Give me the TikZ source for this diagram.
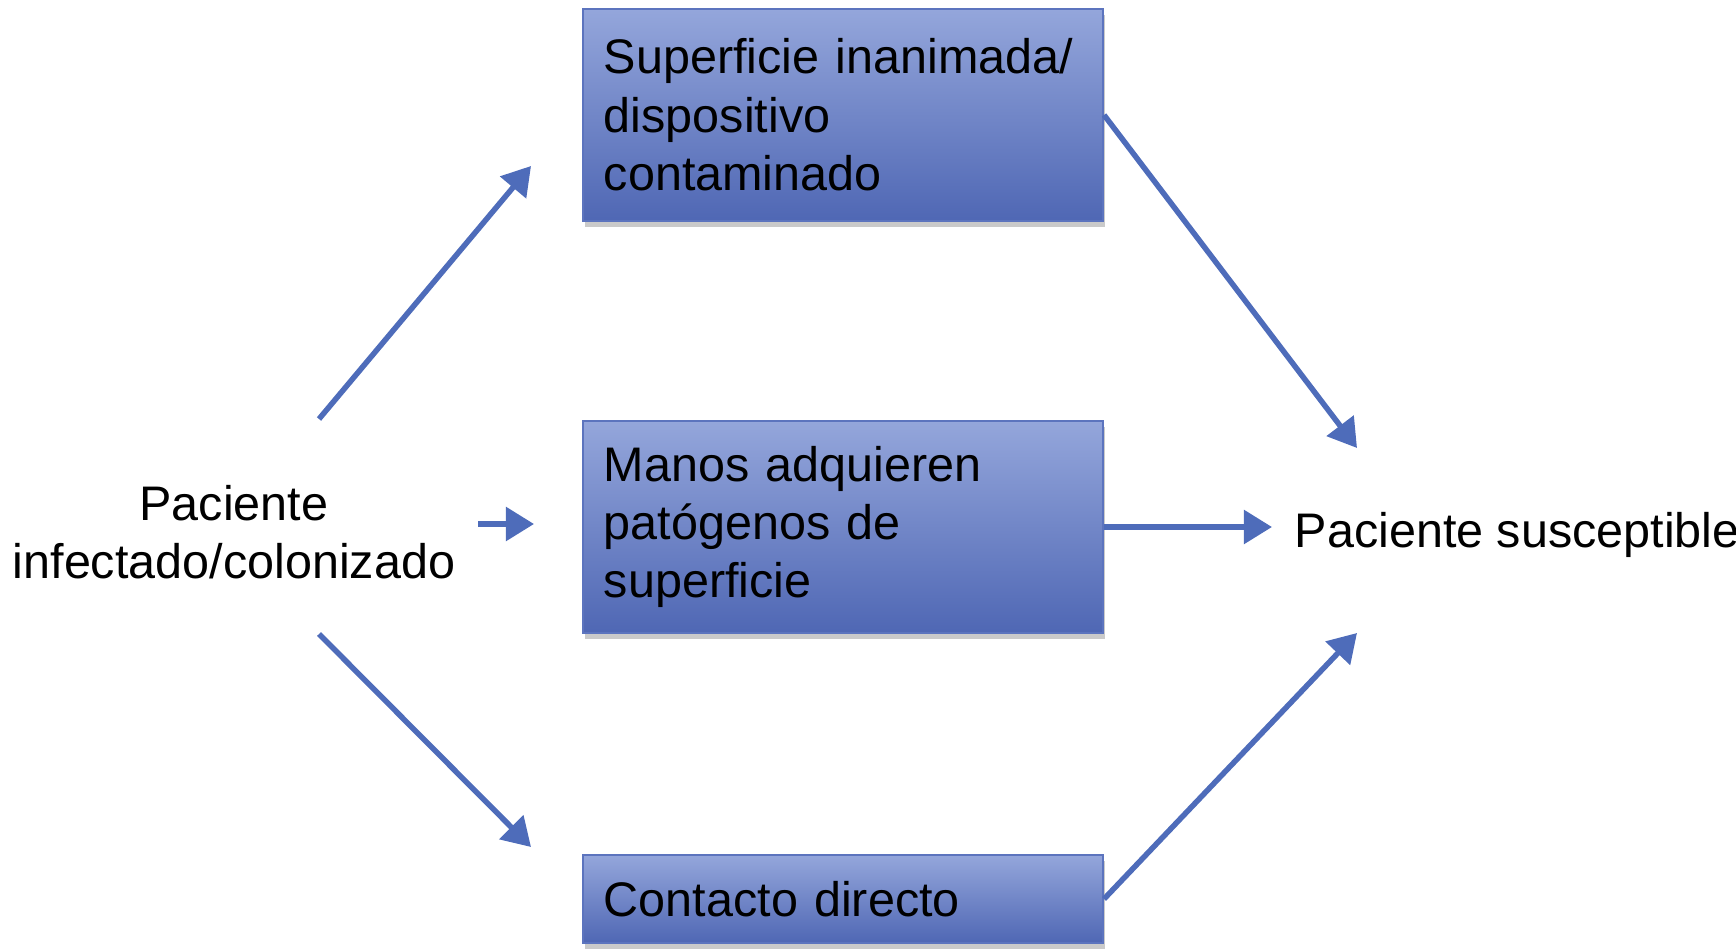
\documentclass[tikz,border=0pt]{standalone}
\usepackage{fontspec}
\setmainfont{Liberation Sans}
\usetikzlibrary{positioning,arrows.meta,shadows}
\definecolor{flowblue}{HTML}{4E6CBA}
\definecolor{boxtop}{HTML}{94A6DB}
\definecolor{boxbottom}{HTML}{4F67B4}
\definecolor{boxedge}{HTML}{5C74BE}
\newcommand{\diagfont}{\fontsize{13.8}{16.6}\selectfont}
\begin{document}
\begin{tikzpicture}[x=0.01cm, y=-0.01cm]
    \tikzset{
      stage/.style={rectangle, draw=boxedge, line width=0.5pt, top color=boxtop, bottom color=boxbottom,
          minimum width=5.2cm, text width=4.78cm, inner xsep=0.21cm, align=left, font=\diagfont,
          drop shadow={shadow xshift=0.02cm, shadow yshift=-0.06cm, opacity=0.35, fill=black!60}},
      plaintext/.style={font=\diagfont, inner sep=0pt},
      flow/.style={-{Triangle[length=0.28cm, width=0.33cm]}, line width=0.055cm, draw=flowblue}
    }
    \useasboundingbox (0,0) rectangle (1736,952);

    \node[stage, minimum height=2.12cm] (surface) at (843, 115) {Superficie inanimada/\\dispositivo\\contaminado};
    \node[stage, minimum height=2.12cm] (hands) at (843, 527) {Manos adquieren\\pat\'ogenos de\\superficie};
    \node[stage, minimum height=0.88cm] (contact) at (843, 899) {Contacto directo};

    \node[plaintext, align=center] (infected) at (234, 532) {Paciente\\infectado/colonizado};
    \node[plaintext, anchor=west] (suscept) at (1294, 535) {Paciente susceptible};

    % free ends of the arrows
    \coordinate (infected-up) at (319, 419);
    \coordinate (surface-in) at (531, 166);
    \coordinate (infected-mid) at (478, 524);
    \coordinate (hands-in) at (534, 524);
    \coordinate (infected-down) at (319, 634);
    \coordinate (contact-in) at (531, 847);
    \coordinate (suscept-top) at (1357, 448);
    \coordinate (suscept-bottom) at (1357, 633);

    \draw[flow] (infected-up) -- (surface-in);
    \draw[flow] (infected-mid) -- (hands-in);
    \draw[flow] (infected-down) -- (contact-in);
    \draw[flow] (surface.east) -- (suscept-top);
    \draw[flow, shorten >=0.22cm] (hands.east) -- (hands.east -| suscept.west);
    \draw[flow] (contact.east) -- (suscept-bottom);
  \end{tikzpicture}
\end{document}
